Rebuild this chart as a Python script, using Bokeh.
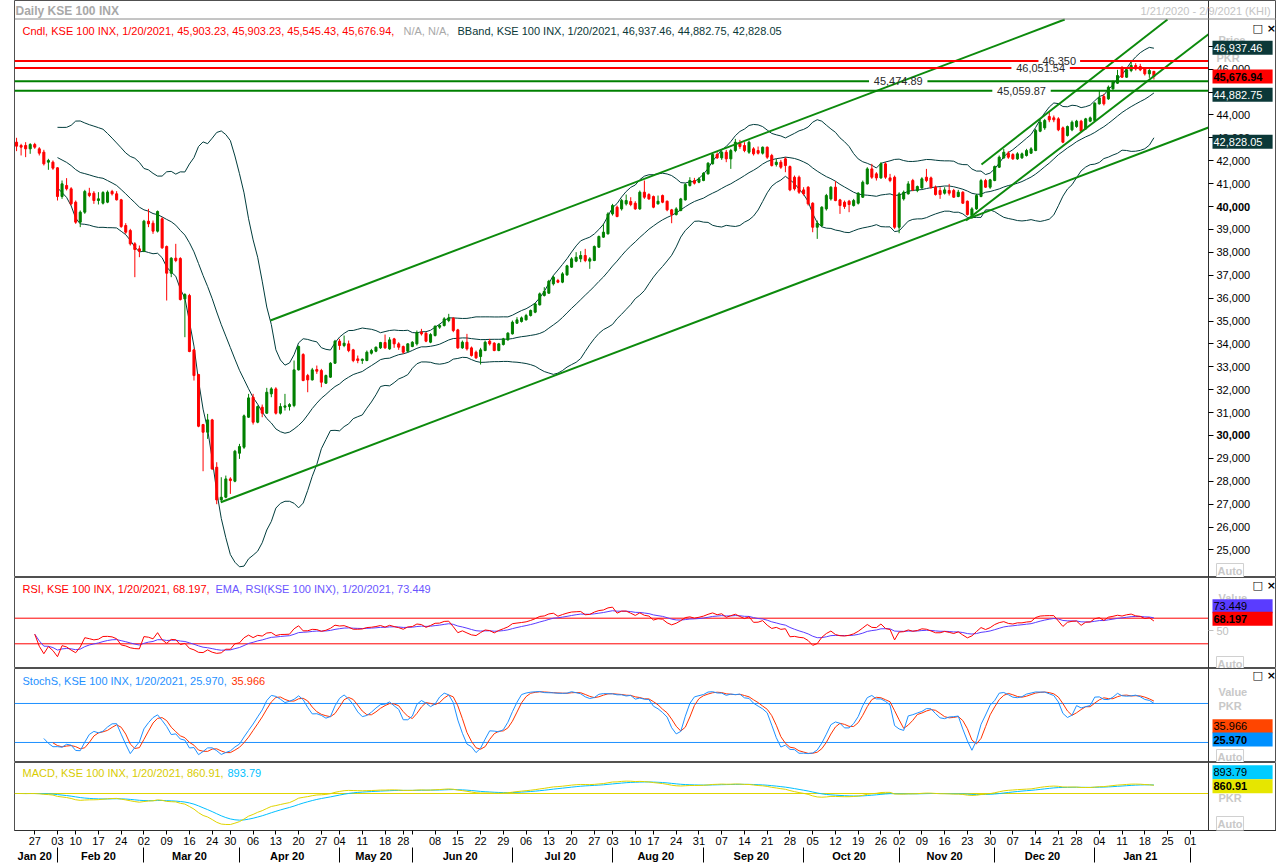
import numpy as np
import pandas as pd
from bokeh.plotting import figure
from bokeh.models import (ColumnDataSource, FixedTicker, Label, Range1d,
                          NumeralTickFormatter, Span, LinearAxis)
from bokeh.layouts import column
from bokeh.embed import file_html
from bokeh.resources import INLINE

FONT = "Liberation Sans"

# ---------------- data ----------------
open_ = [42810, 42665, 42665, 42519, 42708, 42519, 42374, 41937, 41937, 41689,
         40437, 40918, 40772, 40190, 39316, 39753, 40583, 40583, 40262, 40146,
         40190, 40656, 40554, 40292, 39170, 38952, 38370, 38151, 38049, 39360, 39272,
         38923, 39462, 38253, 37088, 37744, 37729, 35967, 36113, 33740, 32662,
         30478, 30143, 30682, 28614, 27188, 27304, 28105, 28003, 29226, 29488,
         30798, 31672, 30580, 31235, 30973, 31818, 32036, 30973, 31235, 31264,
         31308, 32866, 33536, 32618, 32429, 32880, 32837, 32284, 32546, 33157,
         34118, 33929, 34002, 33740, 33346, 33274, 33274, 33594, 33681, 33827,
         34060, 33783, 34220, 34002, 33885, 33681, 33885, 34002, 34511, 34468,
         34074, 34366, 34730, 34802, 35021, 35123, 34613, 33827, 34074, 33827,
         33638, 33448, 33710, 34118, 34031, 33710, 33973, 34176, 34438, 34904,
         34977, 35050, 35239, 35385, 35705, 36113, 36215, 36622, 36768, 36695,
         37015, 37350, 37613, 37714, 37860, 37613, 37642, 38224, 38661, 38806,
         39678, 39969, 39896, 40115, 40217, 40144, 39896, 40624, 40522,
         40435, 40115, 40479, 40231, 39853, 39649, 39823, 40289, 40915, 41134,
         41061, 41134, 41425, 41862, 42269, 42124, 42371, 42080, 42444, 42765,
         42663, 42371, 42517, 42444, 42328, 42590, 42226, 41833, 41935, 42080,
         41745, 41279, 41279, 40726, 40843, 40144, 39095, 39168, 39896, 40333,
         40843, 40289, 40187, 40231, 40042, 40144, 40406, 40988, 41643, 41425,
         41250, 41862, 41250, 41279, 39095, 40333, 40551, 41134, 40697, 40813,
         41279, 41250, 40843, 40697, 40581, 40697, 40697, 40435, 40624, 40231,
         39605, 39896, 40435, 41134, 40843, 41134, 41716, 42124, 42328, 42269,
         42080, 42124, 42226, 42328, 42444, 43289, 43434, 43929, 43871, 43827,
         43434, 43099, 43347, 43493, 43726, 43391, 43726, 43755, 44483, 44803,
         44701, 45138, 45385, 46084, 45647, 45939, 46157, 46113, 46011, 45793,
         45903.23]
high = [43000, 42738, 42810, 42767, 42781, 42592, 42476, 42082, 42010, 41718,
        41136, 41238, 40845, 40262, 39826, 40728, 40816, 40670, 40626, 40670,
        40699, 40728, 40670, 40335, 39272, 39025, 38442, 38297, 39418, 39898, 39389,
        39826, 39534, 38297, 37787, 38370, 37787, 36215, 36186, 33783, 32691,
        30507, 30944, 30726, 28833, 28178, 28250, 28178, 29372, 29634, 30915,
        31818, 31818, 31308, 31352, 32080, 32109, 32109, 31410, 31818, 31410,
        33274, 33929, 33594, 32691, 32953, 33055, 32910, 32662, 33201, 34176,
        34220, 34366, 34147, 33783, 33492, 33361, 33710, 33783, 33885, 34089,
        34409, 34293, 34264, 34074, 33929, 34031, 34118, 34584, 34657, 34511,
        34468, 34802, 34875, 35166, 35312, 35166, 34657, 34147, 34438, 33885,
        33710, 33827, 34147, 34220, 34074, 34045, 34264, 34511, 35021, 35166,
        35196, 35312, 35501, 35778, 36244, 36477, 36797, 36986, 36841, 37132,
        37452, 37787, 38006, 38049, 38151, 37787, 38297, 38734, 39243, 39751,
        40115, 40042, 40333, 40522, 40406, 40231, 40697, 41134, 40581,
        40479, 40479, 40522, 40260, 39896, 39969, 40377, 41017, 41279, 41250,
        41279, 41498, 41935, 42328, 42371, 42444, 42473, 42517, 42954, 42910,
        42808, 42881, 42590, 42619, 42619, 42619, 42299, 42080, 42036, 42153,
        41789, 41352, 41352, 40843, 40886, 40187, 39387, 40013, 40551, 40886,
        41105, 40333, 40260, 40289, 40333, 40624, 41134, 41716, 41862, 41498,
        41935, 41935, 41425, 41352, 40624, 40697, 41105, 41207, 40915, 41279,
        41643, 41308, 40915, 40843, 40843, 40988, 40770, 40726, 40668, 40260,
        39969, 40551, 41207, 41207, 41207, 41789, 42226, 42517, 42415, 42328,
        42371, 42357, 42517, 42590, 43391, 43784, 43827, 44119, 43973, 43900,
        43493, 43536, 43755, 43784, 43784, 43871, 43929, 44555, 45065, 44919,
        45283, 45502, 45968, 46113, 46011, 46346, 46259, 46230, 46055, 46011,
        45903.23]
low = [42417, 42228, 42155, 42301, 42519, 42228, 41791, 41602, 41602, 40262,
       40335, 40699, 40044, 39243, 39098, 39680, 40408, 40117, 40088, 40088,
       40146, 40481, 40262, 39068, 38806, 38297, 36914, 37787, 38006, 39098, 38806,
       38865, 38151, 35894, 36914, 37569, 35894, 34293, 33638, 32400, 30362,
       28440, 29852, 28498, 27000, 27086, 27260, 27450, 27959, 28978, 29415,
       30769, 30478, 30536, 30798, 30944, 31672, 30915, 30915, 31090, 31090,
       31235, 32837, 32371, 31890, 32400, 32691, 32109, 32254, 32516, 33128,
       33740, 33856, 33638, 33201, 33157, 33128, 33244, 33536, 33638, 33783,
       33783, 33740, 33827, 33740, 33565, 33638, 33856, 33929, 34366, 34074,
       34031, 34322, 34657, 34759, 34948, 34511, 33783, 33783, 33710, 33448,
       33346, 33099, 33681, 33929, 33681, 33681, 33929, 34147, 34409, 34875,
       34933, 35021, 35196, 35341, 35676, 36069, 36186, 36550, 36652, 36652,
       36972, 37321, 37569, 37569, 37569, 37278, 37613, 38195, 38632, 38777,
       39605, 39532, 39823, 40042, 40013, 39853, 39853, 40333, 40289,
       39925, 40086, 40144, 39794, 39270, 39605, 39794, 40260, 40872, 40959,
       41017, 41105, 41396, 41833, 42080, 42036, 41935, 41643, 42371, 42517,
       42371, 42299, 42226, 42269, 42269, 42080, 41745, 41745, 41643, 41498,
       40668, 40697, 40551, 40479, 40042, 38877, 38586, 39095, 39823, 40260,
       40231, 39678, 39896, 39751, 39998, 40086, 40377, 40959, 41207, 41134,
       41207, 41207, 41061, 39023, 38833, 40260, 40522, 40668, 40624, 40770,
       41061, 40770, 40479, 40333, 40522, 40479, 40377, 40406, 40115, 39605,
       39459, 39853, 40406, 40813, 40770, 41105, 41687, 42080, 42080, 42036,
       42036, 42080, 42182, 42299, 42415, 43245, 43347, 43682, 43682, 43289,
       42765, 43056, 43289, 43434, 43245, 43347, 43682, 43726, 44453, 44410,
       44657, 45094, 45356, 45618, 45618, 45866, 45939, 45910, 45720, 45618,
       45545.43]
close = [42636, 42592, 42519, 42708, 42592, 42330, 41864, 42010, 41675, 40437,
         40990, 40772, 40117, 39316, 39753, 40656, 40481, 40262, 40335, 40612,
         40626, 40554, 40292, 39127, 38879, 38370, 38122, 38049, 39360, 39243, 38923,
         39782, 38195, 37088, 37744, 37642, 35938, 36156, 33667, 32618, 30405,
         30143, 30682, 28542, 27188, 27304, 28105, 28032, 29313, 29517, 30857,
         31643, 30580, 31264, 30973, 31890, 32036, 30973, 31264, 31293, 31352,
         32866, 33885, 32400, 32429, 32866, 32808, 32327, 32618, 33157, 34118,
         33929, 34031, 33710, 33274, 33274, 33332, 33638, 33710, 33856, 34060,
         33827, 34176, 34002, 33856, 33638, 34002, 34074, 34497, 34438, 34118,
         34409, 34773, 34802, 35094, 35137, 34584, 33827, 34074, 33783, 33492,
         33390, 33740, 34074, 34002, 33710, 34002, 34220, 34468, 34948, 35050,
         35137, 35239, 35458, 35749, 36186, 36287, 36739, 36914, 36695, 37059,
         37409, 37714, 37787, 37860, 37642, 37714, 38253, 38690, 38879, 39678,
         40042, 39561, 40260, 40260, 40086, 39896, 40624, 40406, 40333,
         39969, 40231, 40187, 39853, 39649, 39896, 40333, 40959, 41134, 41017,
         41207, 41454, 41891, 42269, 42124, 42371, 42080, 42444, 42808, 42619,
         42444, 42808, 42299, 42328, 42590, 42153, 41789, 41935, 41716, 41789,
         40726, 40770, 40624, 40551, 40115, 39095, 39270, 39969, 40479, 40843,
         40260, 40042, 39998, 40086, 40260, 40581, 41061, 41643, 41279, 41250,
         41862, 41279, 41134, 39095, 40551, 40624, 40988, 40726, 40872, 41207,
         41134, 40843, 40522, 40522, 40726, 40581, 40406, 40624, 40144, 39649,
         39896, 40479, 41134, 40843, 41163, 41745, 42153, 42371, 42153, 42080,
         42299, 42299, 42444, 42517, 43318, 43682, 43755, 43784, 43784, 43347,
         42808, 43493, 43682, 43726, 43289, 43827, 43871, 44512, 44745, 44483,
         45211, 45429, 45720, 45647, 45968, 46157, 46011, 45968, 45793, 45939,
         45676.94]

holidays = ["2020-02-05", "2020-03-23", "2020-05-01", "2020-05-22", "2020-05-25",
            "2020-05-26", "2020-05-27", "2020-07-31", "2020-08-14", "2020-10-30",
            "2020-12-25"]

levels = [46350, 46051.54, 45474.89, 45059.87]
level_texts = ["46,350", "46,051.54", "45,474.89", "45,059.87"]
level_colors = ["#ff0000", "#ff0000", "#008000", "#008000"]
level_label_idx = [229.2, 225.1, 193.8, 220.9]

tl_x0 = [44.9, 55.8, 208.7, 212.1]
tl_y0 = [27087, 35022, 39389, 41834]
tl_x1 = [262.0, 262.0, 262.0, 262.0]
tl_y1 = [43450, 50546, 47520, 49563]

price_tags = [46937.46, 45676.94, 44882.75, 42828.05]
price_tag_text = ["46,937.46", "45,676.94", "44,882.75", "42,828.05"]
price_tag_bg = ["#0b3838", "#ff0000", "#0b3838", "#0b3838"]
price_tag_fg = ["#ffffff", "#000000", "#ffffff", "#ffffff"]
price_tag_bold = [False, True, False, False]

# ---------------- calendar ----------------
n = min(len(open_), len(high), len(low), len(close))
trade_days = pd.bdate_range("2020-01-21", "2021-01-20")
trade_days = trade_days[~trade_days.isin(pd.to_datetime(holidays))][:n]
future_days = pd.bdate_range("2021-01-21", "2021-02-09")
all_days = trade_days.append(future_days)

x = np.arange(n)
o = np.array(open_[:n], float)
h = np.array(high[:n], float)
l = np.array(low[:n], float)
c = np.array(close[:n], float)
cs = pd.Series(c)

# ---------------- indicators ----------------
bb_mid = cs.rolling(20, min_periods=10).mean()
bb_sd = cs.rolling(20, min_periods=10).std(ddof=0)
bb_up = bb_mid + 2 * bb_sd
bb_lo = bb_mid - 2 * bb_sd

d = cs.diff()
ag = d.clip(lower=0).ewm(alpha=1 / 14, adjust=True, min_periods=4).mean()
al = (-d).clip(lower=0).ewm(alpha=1 / 14, adjust=True, min_periods=4).mean()
rsi = 100 - 100 / (1 + ag / al)
rsi_ema = rsi.ewm(span=9, adjust=True).mean()

hh = pd.Series(h).rolling(14, min_periods=5).max()
ll = pd.Series(l).rolling(14, min_periods=5).min()
fastk = 100 * (cs - ll) / (hh - ll)
slowk = fastk.rolling(3).mean()
slowd = slowk.rolling(3).mean()

ema12 = cs.ewm(span=12, adjust=False).mean()
ema26 = cs.ewm(span=26, adjust=False).mean()
macd = ema12 - ema26
signal = macd.ewm(span=9, adjust=False).mean()

# ---------------- layout constants ----------------
W = 1276
PPI = 1194 / 262.45            # pixels per trading day
X0 = -0.45                     # left edge of plot (x=14)
AXX = 262.0                    # data x of the price-axis line (x=1208)
X1 = AXX + (W - 1208) / PPI    # right edge of canvas
xr = Range1d(X0, X1)

YTOP, YBOT = 48996.0, 23799.0  # main frame spans y=0..577
NBSP = "\u00a0"


def tag_text(t):
    """pad a value tag so that its box reaches the right edge"""
    w = sum(6.12 if ch.isdigit() else 3.06 for ch in t)
    return t + NBSP * max(0, int(round((57 - w) / 3.06)))


def make_fig(height, yr, bottom=0, yaxis=None, xaxis=False):
    p = figure(width=W, height=height, x_range=xr, y_range=Range1d(*yr),
               output_backend="svg", toolbar_location=None, title=None,
               x_axis_location="below" if xaxis else None,
               y_axis_location=yaxis, min_border_left=14, min_border_right=0,
               min_border_top=0, min_border_bottom=bottom)
    p.grid.visible = False
    p.outline_line_color = "#505050"
    p.background_fill_color = "white"
    p.border_fill_color = "white"
    return p


def lab(p, sx, sy, text, color, size="11px", bold=False, bg=None, border=None,
        align="left", yunits="screen", font=FONT, pad=0):
    kw = dict(x=sx, y=sy, x_units="screen", y_units=yunits, text=text,
              text_color=color, text_font=font, text_font_size=size,
              text_font_style="bold" if bold else "normal",
              text_baseline="middle", text_align=align)
    if bg is not None:
        kw.update(background_fill_color=bg, background_fill_alpha=1.0, padding=pad)
    if border is not None:
        kw.update(border_line_color=border, border_line_width=1)
    p.add_layout(Label(**kw))


def style_axis(ax, color="#000000"):
    ax.major_label_text_font = FONT
    ax.major_label_text_font_size = "11px"
    ax.major_label_text_color = color
    ax.major_tick_in = 0
    ax.major_tick_out = 5
    ax.major_label_standoff = 3
    ax.minor_tick_line_color = None
    ax.axis_line_color = "#303030"


def vline(p):
    p.add_layout(Span(location=AXX, dimension="height", line_color="#303030",
                      line_width=1))


# ---- main price panel ----
pm = make_fig(577, (YBOT, YTOP), yaxis="right")
ya = pm.yaxis[0]
ya.fixed_location = AXX
ya.ticker = FixedTicker(ticks=list(range(25000, 48000, 1000)))
ya.formatter = NumeralTickFormatter(format="0,0")
style_axis(ya)

top_px = 19
ytop_vis = YTOP - top_px * (YTOP - YBOT) / 577.0
pm.add_layout(Span(location=YTOP - 18.5 * (YTOP - YBOT) / 577.0, dimension="width",
                   line_color="#8a8a8a", line_width=1))

for band in (bb_up, bb_mid, bb_lo):
    pm.line(x, band.values, line_color="#003c3c", line_width=1)

col = np.where(c >= o, "#008000", "#ff0000")
src = ColumnDataSource(dict(x=x, o=o, h=h, l=l, c=c, top=np.maximum(o, c),
                            bot=np.minimum(o, c), col=col))
pm.segment(x0="x", y0="l", x1="x", y1="h", line_color="col", line_width=1, source=src)
pm.vbar(x="x", width=0.45, top="top", bottom="bot", fill_color="col",
        line_color="col", line_width=1, source=src)

# trend lines, cut where they leave the chart area
ex1, ey1 = [], []
for a0, b0, a1, b1 in zip(tl_x0, tl_y0, tl_x1, tl_y1):
    if b1 > ytop_vis:
        a1 = a0 + (ytop_vis - b0) * (a1 - a0) / (b1 - b0)
        b1 = ytop_vis
    ex1.append(a1)
    ey1.append(b1)
pm.segment(x0=tl_x0, y0=tl_y0, x1=ex1, y1=ey1, line_color="#0c8a0c", line_width=2)

for lv, tx, cl, li in zip(levels, level_texts, level_colors, level_label_idx):
    half = (len(tx) * 5.6 / 2 + 4) / PPI
    pm.segment(x0=[X0, li + half], y0=[lv, lv], x1=[li - half, AXX], y1=[lv, lv],
               line_color=cl, line_width=2)
    pm.add_layout(Label(x=li, y=lv, text=tx, text_color="#2a2a2a", text_font=FONT,
                        text_font_size="11px", text_align="center",
                        text_baseline="middle"))

# header & legend (sx = x-14, sy = 577-y)
lab(pm, 1, 577 - 10, "Daily KSE 100 INX", "#a8a8a8", size="12px", bold=True)
lab(pm, 1140 - 14, 577 - 10, "1/21/2020 - 2/9/2021 (KHI)", "#c4c4c4")
lab(pm, 22 - 14, 577 - 30,
    "Cndl, KSE 100 INX, 1/20/2021, 45,903.23, 45,903.23, 45,545.43, 45,676.94,",
    "#ff0000")
lab(pm, 403 - 14, 577 - 30, "N/A, N/A,", "#a8a8a8")
lab(pm, 457 - 14, 577 - 30,
    "BBand, KSE 100 INX, 1/20/2021, 46,937.46, 44,882.75, 42,828.05", "#0b3838")

lab(pm, 1252 - 14, 577 - 28, "\u25a1 \u00d7", "#000000", bold=True, font="DejaVu Sans")
lab(pm, 1218 - 14, 577 - 39, "Price", "#c8c8c8", bold=True)
lab(pm, 1216 - 14, 577 - 57, "PKR", "#c8c8c8", bold=True)
lab(pm, 1216 - 14, 577 - 570, "Auto", "#c8c8c8", bold=True, bg="white",
    border="#d0d0d0", pad=1)
for yv, bold_txt in ((40000, "40,000"), (30000, "30,000")):
    lab(pm, 1216 - 14, yv, bold_txt, "#000000", bold=True, bg="white", yunits="data")
for val, tx, bg, fg, bd in zip(price_tags, price_tag_text, price_tag_bg,
                               price_tag_fg, price_tag_bold):
    lab(pm, 1212 - 14, val, tag_text(tx), fg, bold=bd, bg=bg, yunits="data", pad=1)

# ---- RSI panel ----
pr = make_fig(91, (-8.6, 133.6), yaxis="right")
ra = pr.yaxis[0]
ra.fixed_location = AXX
ra.ticker = FixedTicker(ticks=[50])
style_axis(ra, "#c0c0c0")
ra.major_tick_line_color = "#c0c0c0"
pr.segment(x0=[X0, X0], y0=[70, 30], x1=[AXX, AXX], y1=[70, 30],
           line_color="#ff0000", line_width=1)
pr.line(x, rsi_ema.values, line_color="#5a3cff", line_width=1)
pr.line(x, rsi.values, line_color="#ff0000", line_width=1)
lab(pr, 22 - 14, 668 - 588, "RSI, KSE 100 INX, 1/20/2021, 68.197,", "#ff0000")
lab(pr, 215 - 14, 668 - 588, "EMA, RSI(KSE 100 INX), 1/20/2021, 73.449", "#6a55ff")
lab(pr, 1252 - 14, 668 - 585, "\u25a1 \u00d7", "#000000", bold=True, font="DejaVu Sans")
lab(pr, 1218 - 14, 668 - 597, "Value", "#c8c8c8", bold=True)
lab(pr, 1212 - 14, 668 - 605.7, tag_text("73.449"), "#000000", bg="#5a3cff", pad=1)
lab(pr, 1212 - 14, 668 - 618.3, tag_text("68.197"), "#000000", bold=True,
    bg="#ff0000", pad=1)
lab(pr, 1216 - 14, 668 - 663, "Auto", "#c8c8c8", bold=True, bg="white",
    border="#d0d0d0", pad=1)

# ---- Stochastic panel ----
ps = make_fig(94, (-10.8, 133.8))
vline(ps)
ps.segment(x0=[X0, X0], y0=[80, 20], x1=[AXX, AXX], y1=[80, 20],
           line_color="#1e90ff", line_width=1)
ps.line(x, slowd.values, line_color="#ff3300", line_width=1)
ps.line(x, slowk.values, line_color="#1e90ff", line_width=1)
lab(ps, 22 - 14, 762 - 680, "StochS, KSE 100 INX, 1/20/2021, 25.970,", "#1e90ff")
lab(ps, 231 - 14, 762 - 680, "35.966", "#ff3300")
lab(ps, 1252 - 14, 762 - 675, "\u25a1 \u00d7", "#000000", bold=True, font="DejaVu Sans")
lab(ps, 1218 - 14, 762 - 691, "Value", "#c8c8c8", bold=True)
lab(ps, 1218 - 14, 762 - 705.7, "PKR", "#c8c8c8", bold=True)
lab(ps, 1212 - 14, 762 - 725.7, tag_text("35.966"), "#000000", bg="#ff4500", pad=1)
lab(ps, 1212 - 14, 762 - 739, tag_text("25.970"), "#000000", bold=True,
    bg="#0090ff", pad=1)
lab(ps, 1216 - 14, 762 - 756, "Auto", "#c8c8c8", bold=True, bg="white",
    border="#d0d0d0", pad=1)

# ---- MACD panel ----
upp = -float(macd.min()) / 31.0
pmc = make_fig(105, (-37 * upp, 31 * upp), bottom=37, xaxis=True)
vline(pmc)
pmc.segment(x0=[X0], y0=[0], x1=[AXX], y1=[0], line_color="#e0d400", line_width=1)
pmc.line(x, signal.values, line_color="#00bfff", line_width=1)
pmc.line(x, macd.values, line_color="#e0d400", line_width=1)
lab(pmc, 22 - 14, 830 - 772, "MACD, KSE 100 INX, 1/20/2021, 860.91,", "#d8cc00")
lab(pmc, 227 - 14, 830 - 772, "893.79", "#00bfff")
lab(pmc, 1212 - 14, 830 - 771.7, tag_text("893.79"), "#000000", bg="#00ccff", pad=1)
lab(pmc, 1212 - 14, 830 - 785.7, tag_text("860.91"), "#000000", bold=True,
    bg="#e6e600", pad=1)
lab(pmc, 1218 - 14, 830 - 797.7, "PKR", "#c8c8c8", bold=True)
lab(pmc, 1216 - 14, 830 - 823, "Auto", "#c8c8c8", bold=True, bg="white",
    border="#d0d0d0", pad=1)

# ---- date axes ----
weeks = all_days.to_period("W")
day_ticks, day_labels = [], {}
prev_w, last_lab = None, -99
for i, (dd, wk) in enumerate(zip(all_days, weeks)):
    if wk != prev_w:
        if prev_w is not None and i <= AXX:
            day_ticks.append(i)
            if i - last_lab >= 3:
                day_labels[i] = dd.strftime("%d")
                last_lab = i
            else:
                day_labels[i] = ""
        prev_w = wk

months = all_days.to_period("M")
month_centers, month_labels, month_seps = [], {}, []
for m in pd.unique(months):
    idx = np.where(months == m)[0]
    if idx[0] > 0:
        month_seps.append(int(idx[0]))
    if m.year == 2021 and m.month == 2:
        continue
    ctr = (idx[0] + idx[-1]) / 2.0
    month_centers.append(ctr)
    month_labels[ctr] = all_days[idx[0]].strftime("%b %y")

xa = pmc.xaxis[0]
xa.ticker = FixedTicker(ticks=day_ticks)
xa.major_label_overrides = day_labels
xa.major_label_text_font = FONT
xa.major_label_text_font_size = "11px"
xa.major_label_text_color = "#000000"
xa.major_tick_in = 0
xa.major_tick_out = 4
xa.major_label_standoff = 2
xa.minor_tick_line_color = None
xa.axis_line_color = "#303030"

ma = LinearAxis(ticker=FixedTicker(ticks=month_centers, minor_ticks=month_seps))
ma.major_label_overrides = month_labels
ma.major_label_text_font = FONT
ma.major_label_text_font_size = "11px"
ma.major_label_text_font_style = "bold"
ma.major_label_text_color = "#000000"
ma.major_tick_in = 0
ma.major_tick_out = 0
ma.major_label_standoff = -13
ma.minor_tick_in = 0
ma.minor_tick_out = 15
ma.minor_tick_line_color = "#000000"
ma.axis_line_color = None
pmc.add_layout(ma, "below")

layout = column(pm, pr, ps, pmc, spacing=0)
open("out.html", "w").write(file_html(layout, INLINE, "KSE 100"))
